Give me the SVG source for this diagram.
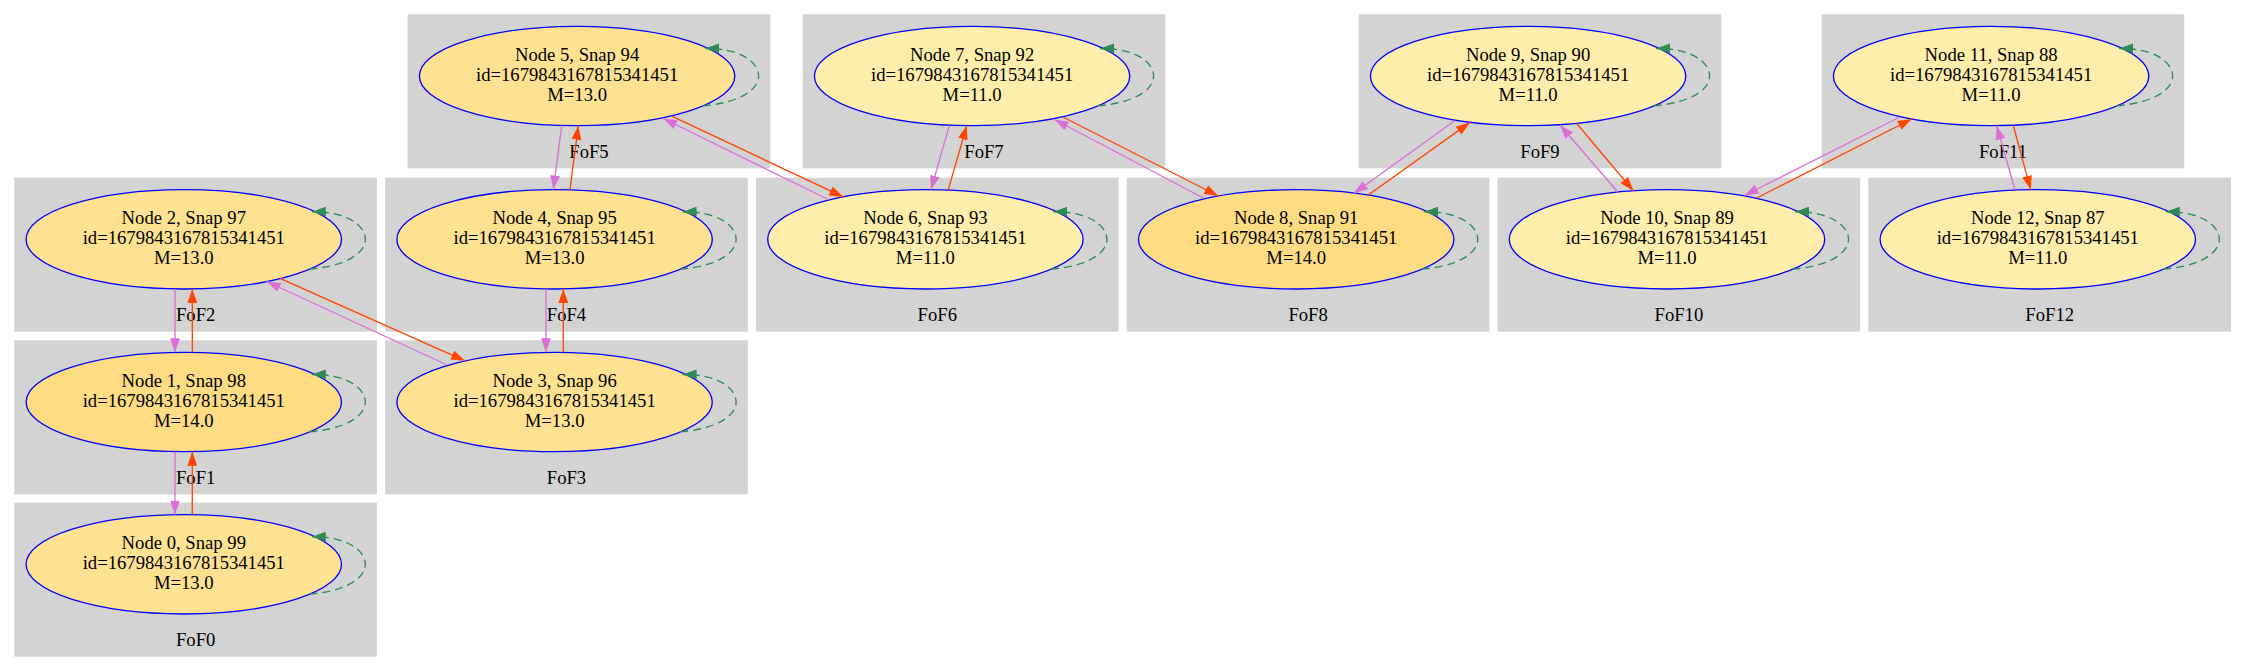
<svg xmlns="http://www.w3.org/2000/svg" width="2245" height="672" viewBox="0 0 2245 672">
<style>
.cl{fill:#d3d3d3;stroke:#d3d3d3;stroke-width:1.33}
.nd{stroke:#0000ff;stroke-width:1.33}
.m13{fill:#ffe291}.m11{fill:#ffeeab}.m14{fill:#fedc84}
text{font-family:"Liberation Serif","Times New Roman",serif;font-size:18.67px;text-anchor:middle;fill:#000}
.eo{stroke:#ff4500;stroke-width:1.33;fill:none;marker-end:url(#ao)}
.ev{stroke:#da70d6;stroke-width:1.33;fill:none;marker-end:url(#av)}
.el{stroke:#2e8b57;stroke-width:1.33;fill:none;stroke-dasharray:8,5;marker-end:url(#ag)}
</style>
<defs>
<marker id="ao" markerUnits="userSpaceOnUse" markerWidth="14" markerHeight="10" refX="13.3" refY="4.67" orient="auto" viewBox="0 0 13.3 9.33"><path d="M0,0 L13.3,4.67 L0,9.33 z" fill="#ff4500"/></marker>
<marker id="av" markerUnits="userSpaceOnUse" markerWidth="14" markerHeight="10" refX="13.3" refY="4.67" orient="auto" viewBox="0 0 13.3 9.33"><path d="M0,0 L13.3,4.67 L0,9.33 z" fill="#da70d6"/></marker>
<marker id="ag" markerUnits="userSpaceOnUse" markerWidth="14" markerHeight="10" refX="13.3" refY="4.67" orient="auto" viewBox="0 0 13.3 9.33"><path d="M0,0 L13.3,4.67 L0,9.33 z" fill="#2e8b57"/></marker>
</defs>
<rect width="2245" height="672" fill="#fff"/>

<g id="node0">
<rect class="cl" x="15" y="503.3" width="361.3" height="152.7"/>
<text x="195.7" y="645.8">FoF0</text>
<ellipse class="nd m13" cx="183.8" cy="564.3" rx="157.7" ry="49.7"/>
<text x="183.8" y="549.3">Node 0, Snap 99</text><text x="183.8" y="569.3">id=1679843167815341451</text><text x="183.8" y="589.3">M=13.0</text>
</g>
<g id="node1">
<rect class="cl" x="15" y="341" width="361.3" height="152.7"/>
<text x="195.7" y="483.5">FoF1</text>
<ellipse class="nd m14" cx="183.8" cy="402" rx="157.7" ry="49.7"/>
<text x="183.8" y="387">Node 1, Snap 98</text><text x="183.8" y="407">id=1679843167815341451</text><text x="183.8" y="427">M=14.0</text>
</g>
<g id="node2">
<rect class="cl" x="15" y="178.3" width="361.3" height="152.7"/>
<text x="195.7" y="320.8">FoF2</text>
<ellipse class="nd m13" cx="183.8" cy="239.3" rx="157.7" ry="49.7"/>
<text x="183.8" y="224.3">Node 2, Snap 97</text><text x="183.8" y="244.3">id=1679843167815341451</text><text x="183.8" y="264.3">M=13.0</text>
</g>
<g id="node3">
<rect class="cl" x="385.8" y="341" width="361.3" height="152.7"/>
<text x="566.5" y="483.5">FoF3</text>
<ellipse class="nd m13" cx="554.6" cy="402" rx="157.7" ry="49.7"/>
<text x="554.6" y="387">Node 3, Snap 96</text><text x="554.6" y="407">id=1679843167815341451</text><text x="554.6" y="427">M=13.0</text>
</g>
<g id="node4">
<rect class="cl" x="385.8" y="178.3" width="361.3" height="152.7"/>
<text x="566.5" y="320.8">FoF4</text>
<ellipse class="nd m13" cx="554.6" cy="239.3" rx="157.7" ry="49.7"/>
<text x="554.6" y="224.3">Node 4, Snap 95</text><text x="554.6" y="244.3">id=1679843167815341451</text><text x="554.6" y="264.3">M=13.0</text>
</g>
<g id="node5">
<rect class="cl" x="408.3" y="15" width="361.3" height="152.7"/>
<text x="589" y="157.5">FoF5</text>
<ellipse class="nd m13" cx="577.1" cy="76" rx="157.7" ry="49.7"/>
<text x="577.1" y="61">Node 5, Snap 94</text><text x="577.1" y="81">id=1679843167815341451</text><text x="577.1" y="101">M=13.0</text>
</g>
<g id="node6">
<rect class="cl" x="756.6" y="178.3" width="361.3" height="152.7"/>
<text x="937.3" y="320.8">FoF6</text>
<ellipse class="nd m11" cx="925.4" cy="239.3" rx="157.7" ry="49.7"/>
<text x="925.4" y="224.3">Node 6, Snap 93</text><text x="925.4" y="244.3">id=1679843167815341451</text><text x="925.4" y="264.3">M=11.0</text>
</g>
<g id="node7">
<rect class="cl" x="803.3" y="15" width="361.3" height="152.7"/>
<text x="984" y="157.5">FoF7</text>
<ellipse class="nd m11" cx="972.1" cy="76" rx="157.7" ry="49.7"/>
<text x="972.1" y="61">Node 7, Snap 92</text><text x="972.1" y="81">id=1679843167815341451</text><text x="972.1" y="101">M=11.0</text>
</g>
<g id="node8">
<rect class="cl" x="1127.4" y="178.3" width="361.3" height="152.7"/>
<text x="1308.1" y="320.8">FoF8</text>
<ellipse class="nd m14" cx="1296.2" cy="239.3" rx="157.7" ry="49.7"/>
<text x="1296.2" y="224.3">Node 8, Snap 91</text><text x="1296.2" y="244.3">id=1679843167815341451</text><text x="1296.2" y="264.3">M=14.0</text>
</g>
<g id="node9">
<rect class="cl" x="1359.3" y="15" width="361.3" height="152.7"/>
<text x="1540" y="157.5">FoF9</text>
<ellipse class="nd m11" cx="1528.1" cy="76" rx="157.7" ry="49.7"/>
<text x="1528.1" y="61">Node 9, Snap 90</text><text x="1528.1" y="81">id=1679843167815341451</text><text x="1528.1" y="101">M=11.0</text>
</g>
<g id="node10">
<rect class="cl" x="1498.2" y="178.3" width="361.3" height="152.7"/>
<text x="1678.9" y="320.8">FoF10</text>
<ellipse class="nd m11" cx="1667" cy="239.3" rx="157.7" ry="49.7"/>
<text x="1667" y="224.3">Node 10, Snap 89</text><text x="1667" y="244.3">id=1679843167815341451</text><text x="1667" y="264.3">M=11.0</text>
</g>
<g id="node11">
<rect class="cl" x="1822.3" y="15" width="361.3" height="152.7"/>
<text x="2003" y="157.5">FoF11</text>
<ellipse class="nd m11" cx="1991.1" cy="76" rx="157.7" ry="49.7"/>
<text x="1991.1" y="61">Node 11, Snap 88</text><text x="1991.1" y="81">id=1679843167815341451</text><text x="1991.1" y="101">M=11.0</text>
</g>
<g id="node12">
<rect class="cl" x="1869" y="178.3" width="361.3" height="152.7"/>
<text x="2049.7" y="320.8">FoF12</text>
<ellipse class="nd m11" cx="2037.8" cy="239.3" rx="157.7" ry="49.7"/>
<text x="2037.8" y="224.3">Node 12, Snap 87</text><text x="2037.8" y="244.3">id=1679843167815341451</text><text x="2037.8" y="264.3">M=11.0</text>
</g>

<g id="connectors">
<!-- self loops -->
<path class="el" d="M309.3,594 C341.3,592 365.3,580 365.3,564.3 C365.3,550 345.8,536.3 311.8,536.8"/>
<path class="el" d="M309.3,431.7 C341.3,429.7 365.3,417.7 365.3,402 C365.3,387.7 345.8,374 311.8,374.5"/>
<path class="el" d="M309.3,269 C341.3,267 365.3,255 365.3,239.3 C365.3,225 345.8,211.3 311.8,211.8"/>
<path class="el" d="M680.1,431.7 C712.1,429.7 736.1,417.7 736.1,402 C736.1,387.7 716.6,374 682.6,374.5"/>
<path class="el" d="M680.1,269 C712.1,267 736.1,255 736.1,239.3 C736.1,225 716.6,211.3 682.6,211.8"/>
<path class="el" d="M702.6,105.7 C734.6,103.7 758.6,91.7 758.6,76 C758.6,61.7 739.1,48 705.1,48.5"/>
<path class="el" d="M1050.9,269 C1082.9,267 1106.9,255 1106.9,239.3 C1106.9,225 1087.4,211.3 1053.4,211.8"/>
<path class="el" d="M1097.6,105.7 C1129.6,103.7 1153.6,91.7 1153.6,76 C1153.6,61.7 1134.1,48 1100.1,48.5"/>
<path class="el" d="M1421.7,269 C1453.7,267 1477.7,255 1477.7,239.3 C1477.7,225 1458.2,211.3 1424.2,211.8"/>
<path class="el" d="M1653.6,105.7 C1685.6,103.7 1709.6,91.7 1709.6,76 C1709.6,61.7 1690.1,48 1656.1,48.5"/>
<path class="el" d="M1792.5,269 C1824.5,267 1848.5,255 1848.5,239.3 C1848.5,225 1829,211.3 1795,211.8"/>
<path class="el" d="M2116.6,105.7 C2148.6,103.7 2172.6,91.7 2172.6,76 C2172.6,61.7 2153.1,48 2119.1,48.5"/>
<path class="el" d="M2163.3,269 C2195.3,267 2219.3,255 2219.3,239.3 C2219.3,225 2199.8,211.3 2165.8,211.8"/>
<!-- orange i -> i+1 -->
<path class="eo" d="M192.3,514.6 L192.3,451.7"/>
<path class="eo" d="M192.3,352.3 L192.3,289"/>
<path class="eo" d="M280,278.4 L465,360.8"/>
<path class="eo" d="M563.3,352.3 L563.3,289"/>
<path class="eo" d="M570,189.6 L578.3,125.7"/>
<path class="eo" d="M671.7,116.2 L843.3,196.9"/>
<path class="eo" d="M948.3,189.6 L966.7,125.7"/>
<path class="eo" d="M1063,117 L1218.3,196"/>
<path class="eo" d="M1368.3,195 L1470,122.4"/>
<path class="eo" d="M1576.7,123.5 L1633.3,190.7"/>
<path class="eo" d="M1756.7,198 L1911.7,119"/>
<path class="eo" d="M2013.3,125.5 L2030.7,189.8"/>
<!-- violet i+1 -> i -->
<path class="ev" d="M175,451.7 L175,514.6"/>
<path class="ev" d="M175,289 L175,352.3"/>
<path class="ev" d="M446,364.5 L266.7,281.5"/>
<path class="ev" d="M546,289 L546,352.3"/>
<path class="ev" d="M561.7,125.5 L553.3,189.6"/>
<path class="ev" d="M828.3,199.5 L663.3,118.5"/>
<path class="ev" d="M949.3,125.5 L931,189.6"/>
<path class="ev" d="M1203.3,198 L1054.5,119.5"/>
<path class="ev" d="M1455,120.5 L1354,193.3"/>
<path class="ev" d="M1617.7,192 L1560,125"/>
<path class="ev" d="M1899,117.5 L1744.5,195.5"/>
<path class="ev" d="M2015,189.8 L1996.7,125.7"/>
</g>
</svg>
